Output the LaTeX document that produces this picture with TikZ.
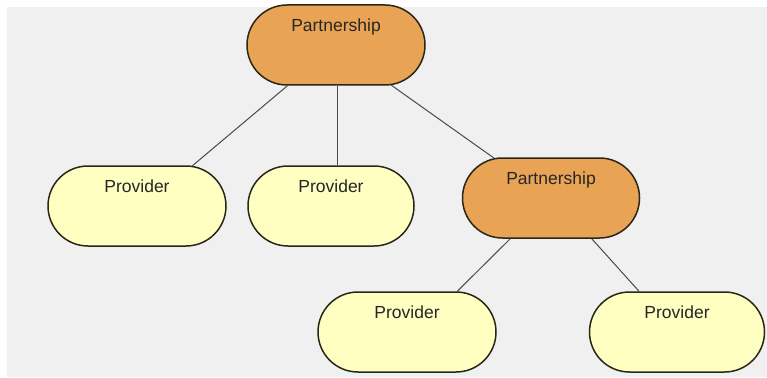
\documentclass[tikz,border=0pt]{standalone}
\usepackage{fontspec}
\setmainfont{Liberation Sans}
\usetikzlibrary{shapes.misc}
\definecolor{bgray}{HTML}{F0F0F0}
\definecolor{orangefill}{HTML}{E9A355}
\definecolor{yellowfill}{HTML}{FFFFC2}
\definecolor{edgecol}{HTML}{2A2618}
\definecolor{linkcol}{HTML}{4A4A4A}
\tikzset{
  pill/.style={rounded rectangle, draw=edgecol, line width=1.5pt,
    minimum width=#1, minimum height=80pt, inner sep=0pt},
  partner/.style={pill=178pt, fill=orangefill},
  provider/.style={pill=178pt, fill=yellowfill},
  toptext/.style={anchor=north, inner sep=0pt, yshift=-14.5pt,
    font=\fontsize{17.5}{19}\selectfont, text=black!85},
  link/.style={draw=linkcol, line width=1pt}
}
\begin{document}
\begin{tikzpicture}[x=1pt,y=-1pt]
\useasboundingbox (0,0) rectangle (767,377);
\fill[white] (0,0) rectangle (767,377);
\fill[bgray] (7,7) rectangle (767,377);
\node[partner, label={[toptext]north:Partnership}] (p1) at (336,45) {};
\node[provider, label={[toptext]north:Provider}] (v1) at (137,206) {};
\node[provider, minimum width=166pt, label={[toptext]north:Provider}] (v2) at (331,206) {};
\node[partner, minimum width=177pt, label={[toptext]north:Partnership}] (p2) at (551,198) {};
\node[provider, label={[toptext]north:Provider}] (v3) at (407,332) {};
\node[provider, minimum width=175pt, label={[toptext]north:Provider}] (v4) at (677,332) {};
\draw[link] (p1.220) -- (v1.36);
\draw[link] ([xshift=1pt]p1.south) -- ([xshift=1pt]p1.south |- v2.north);
\draw[link] (p1.-36) -- (p2.145);
\draw[link] (p2.225) -- (v3.39);
\draw[link] (p2.-45) -- (v4.133);
\end{tikzpicture}
\end{document}
